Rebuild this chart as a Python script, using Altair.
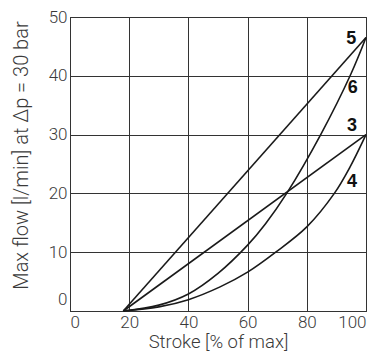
import altair as alt
import pandas as pd

x5 = [18, 100]
y5 = [0, 46.5]
x3 = [18, 100]
y3 = [0, 30]
x6 = [18, 30, 40, 50, 60, 66, 73.2, 84.7, 94.9, 100]
y6 = [0, 1.0, 2.9, 6.4, 11.2, 14.8, 20, 30, 40.3, 46.5]
x4 = [18, 30, 40, 50.7, 60, 69.5, 80, 89.3, 94.5, 100]
y4 = [0, 0.7, 1.93, 4.1, 6.6, 10, 14.3, 20, 24.4, 30]

label_text = ["5", "6", "3", "4"]
label_x = [95.0, 95.5, 95.3, 95.3]
label_y = [46.2, 37.9, 31.5, 22.0]

rows = []
for name, xs_, ys_ in [("5", x5, y5), ("3", x3, y3), ("6", x6, y6), ("4", x4, y4)]:
    for i, (a, b) in enumerate(zip(xs_, ys_)):
        rows.append({"curve": name, "x": a, "y": b, "order": i})
df = pd.DataFrame(rows)
lab = pd.DataFrame({"t": label_text, "x": label_x, "y": label_y})

FONT = "Roboto"
GRID = "#333333"
TXT = "#3a3a3a"

xs = alt.Scale(domain=[0, 100], nice=False)
ys = alt.Scale(domain=[0, 50], nice=False)

lines = alt.Chart(df).mark_line(color="#1a1a1a", strokeWidth=1.6, interpolate="catmull-rom").encode(
    x=alt.X("x:Q", scale=xs, title="Stroke [% of max]",
            axis=alt.Axis(values=[0, 20, 40, 60, 80, 100], grid=True, gridColor=GRID, gridOpacity=1,
                          gridWidth=1, domainColor=GRID, ticks=False, labelPadding=3,
                          labelFont=FONT, labelFontSize=17, labelColor=TXT, labelFontWeight=300,
                          titleFont=FONT, titleFontSize=18.5, titleColor=TXT, titleFontWeight=300,
                          titlePadding=2)),
    y=alt.Y("y:Q", scale=ys, title="Max flow [l/min] at Δp = 30 bar",
            axis=alt.Axis(values=[0, 10, 20, 30, 40, 50], grid=True, gridColor=GRID, gridOpacity=1,
                          gridWidth=1, domainColor=GRID, ticks=False, labelPadding=3,
                          labelOffset=alt.condition("datum.value == 0", alt.value(-12), alt.value(0)),
                          labelFont=FONT, labelFontSize=17, labelColor=TXT, labelFontWeight=300,
                          titleFont=FONT, titleFontSize=20, titleColor=TXT, titleFontWeight=300,
                          titlePadding=17, titleY=138)),
    detail="curve:N",
    order="order:Q",
)

texts = alt.Chart(lab).mark_text(font="Liberation Sans", fontSize=18, fontWeight="bold",
                                 color="#111", align="center", baseline="middle").encode(
    x=alt.X("x:Q", scale=xs), y=alt.Y("y:Q", scale=ys), text="t:N")

chart = (lines + texts).properties(width=296, height=294, padding={"left": 3, "top": 0, "right": 0, "bottom": 0}
                                   ).configure_view(stroke=GRID, strokeWidth=1)

chart.save("out.html", embed_options={"renderer": "svg", "actions": False})
